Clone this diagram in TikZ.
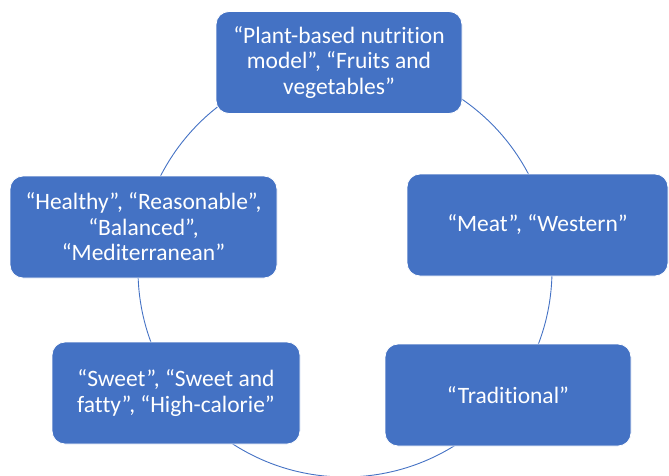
\documentclass[tikz,border=0pt]{standalone}
\usepackage{fontspec}
\setmainfont[Ligatures=NoCommon]{Carlito}
\definecolor{boxblue}{HTML}{4472C4}
\begin{document}
\begin{tikzpicture}[x=1pt,y=-1pt,
  box/.style={rectangle, rounded corners=13pt, fill=boxblue, draw=white, line width=0.8pt,
    text=white, align=center, font=\fontsize{23.5}{25.5}\selectfont, inner sep=0pt},
  ring/.style={circle, draw=boxblue, line width=0.9pt, inner sep=0pt}]
\useasboundingbox (0,0) rectangle (669,475);
\node[ring, minimum size=414pt] (cyc) at (345,270) {};
\node[box, minimum width=246pt, minimum height=102pt] (plant) at (339,62.5)
  {“Plant-based nutrition\\model”, “Fruits and\\vegetables”};
\node[box, minimum width=261pt, minimum height=102pt] (meat) at (537.5,225)
  {“Meat”, “Western”};
\node[box, minimum width=267pt, minimum height=102pt] (healthy) at (143.5,227)
  {“Healthy”, “Reasonable”,\\“Balanced”,\\“Mediterranean”};
\node[box, minimum width=248pt, minimum height=102pt] (sweet) at (176,393)
  {“Sweet”, “Sweet and\\fatty”, “High-calorie”};
\node[box, minimum width=246pt, minimum height=102pt] (trad) at (508,395)
  {“Traditional”};
\end{tikzpicture}
\end{document}
